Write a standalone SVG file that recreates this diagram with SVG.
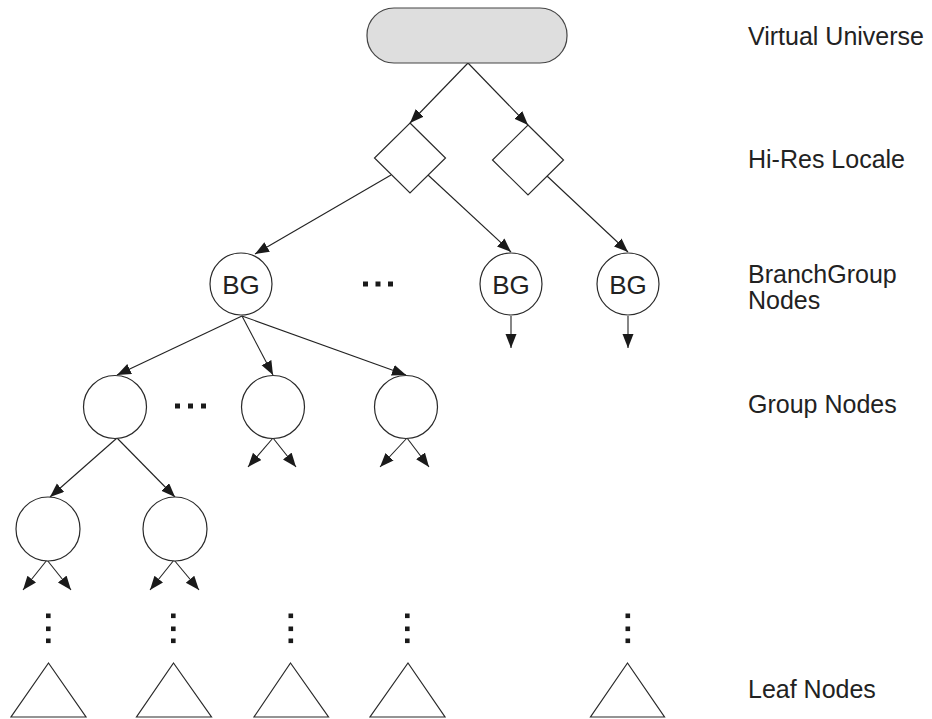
<svg xmlns="http://www.w3.org/2000/svg" width="932" height="719" viewBox="0 0 932 719">
<style>
.shape{fill:#ffffff;stroke:#2a2a2a;stroke-width:1.2}
.vu{fill:#dedede;stroke:#444;stroke-width:1.2}
.edge{stroke:#222;stroke-width:1.1;fill:none;marker-end:url(#arr)}
.lbl{font-family:"Liberation Sans",Arial,sans-serif;font-size:25px;fill:#222}
.bg{font-family:"Liberation Sans",Arial,sans-serif;font-size:26px;fill:#222;text-anchor:middle}
.dot{fill:#1a1a1a}
</style>
<defs>
<marker id="arr" markerUnits="userSpaceOnUse" markerWidth="16" markerHeight="14" refX="14" refY="5.5" orient="auto">
<path d="M0,0 L14,5.5 L0,11 Z" fill="#1a1a1a"/>
</marker>
</defs>
<rect width="932" height="719" fill="#ffffff"/>
<g id="connectors">
<line class="edge" x1="468" y1="63" x2="410" y2="123"/>
<line class="edge" x1="468" y1="63" x2="528" y2="125"/>
<line class="edge" x1="391" y1="175" x2="255" y2="254"/>
<line class="edge" x1="428" y1="175" x2="511" y2="252"/>
<line class="edge" x1="547" y1="176" x2="628" y2="252"/>
<line class="edge" x1="511" y1="316" x2="511" y2="348"/>
<line class="edge" x1="628" y1="316" x2="628" y2="348"/>
<line class="edge" x1="242" y1="316" x2="117" y2="375"/>
<line class="edge" x1="242" y1="316" x2="273" y2="375"/>
<line class="edge" x1="242" y1="316" x2="406" y2="375"/>
<line class="edge" x1="117" y1="438" x2="50" y2="497"/>
<line class="edge" x1="117" y1="438" x2="175" y2="497"/>
<line class="edge" x1="273" y1="438" x2="248" y2="467"/>
<line class="edge" x1="273" y1="438" x2="296" y2="467"/>
<line class="edge" x1="407" y1="438" x2="380" y2="467"/>
<line class="edge" x1="407" y1="438" x2="429" y2="467"/>
<line class="edge" x1="47" y1="560" x2="23" y2="590"/>
<line class="edge" x1="47" y1="560" x2="71" y2="590"/>
<line class="edge" x1="174" y1="560" x2="150" y2="590"/>
<line class="edge" x1="174" y1="560" x2="199" y2="590"/>
</g>
<g id="virtual-universe"><rect class="vu" x="367" y="8" width="200" height="55" rx="27" ry="27"/></g>
<g id="locale-1"><polygon class="shape" points="410,123 445.5,158 410,193 374.5,158"/></g>
<g id="locale-2"><polygon class="shape" points="528,125 563.5,160 528,195 492.5,160"/></g>
<g id="bg-1"><circle class="shape" cx="241" cy="284" r="31"/><text class="bg" x="241" y="293.5">BG</text></g>
<g id="bg-2"><circle class="shape" cx="511" cy="284" r="31"/><text class="bg" x="511" y="293.5">BG</text></g>
<g id="bg-3"><circle class="shape" cx="628" cy="284" r="31"/><text class="bg" x="628" y="293.5">BG</text></g>
<g id="bg-dots"><rect class="dot" x="363" y="281.5" width="5" height="5"/><rect class="dot" x="375.5" y="281.5" width="5" height="5"/><rect class="dot" x="388" y="281.5" width="5" height="5"/></g>
<g id="group-1"><circle class="shape" cx="115" cy="407" r="31.5"/></g>
<g id="group-2"><circle class="shape" cx="273" cy="407" r="31.5"/></g>
<g id="group-3"><circle class="shape" cx="406" cy="407" r="31.5"/></g>
<g id="group-dots"><rect class="dot" x="175" y="403.5" width="5" height="5"/><rect class="dot" x="188" y="403.5" width="5" height="5"/><rect class="dot" x="201" y="403.5" width="5" height="5"/></g>
<g id="group-4"><circle class="shape" cx="48" cy="529" r="32"/></g>
<g id="group-5"><circle class="shape" cx="175" cy="529" r="32"/></g>
<g id="vdots">
<rect class="dot" x="46" y="613.5" width="4.6" height="4.6"/><rect class="dot" x="46" y="626.5" width="4.6" height="4.6"/><rect class="dot" x="46" y="638.5" width="4.6" height="4.6"/>
<rect class="dot" x="171" y="613.5" width="4.6" height="4.6"/><rect class="dot" x="171" y="626.5" width="4.6" height="4.6"/><rect class="dot" x="171" y="638.5" width="4.6" height="4.6"/>
<rect class="dot" x="288.5" y="613.5" width="4.6" height="4.6"/><rect class="dot" x="288.5" y="626.5" width="4.6" height="4.6"/><rect class="dot" x="288.5" y="638.5" width="4.6" height="4.6"/>
<rect class="dot" x="405" y="613.5" width="4.6" height="4.6"/><rect class="dot" x="405" y="626.5" width="4.6" height="4.6"/><rect class="dot" x="405" y="638.5" width="4.6" height="4.6"/>
<rect class="dot" x="625.5" y="613.5" width="4.6" height="4.6"/><rect class="dot" x="625.5" y="626.5" width="4.6" height="4.6"/><rect class="dot" x="625.5" y="638.5" width="4.6" height="4.6"/>
</g>
<g id="leaf-1"><polygon class="shape" points="48.5,663 86,717 11,717"/></g>
<g id="leaf-2"><polygon class="shape" points="173.5,663 211.5,717 136.5,717"/></g>
<g id="leaf-3"><polygon class="shape" points="290.5,663 328.5,717 254,717"/></g>
<g id="leaf-4"><polygon class="shape" points="408,663 445,717 370,717"/></g>
<g id="leaf-5"><polygon class="shape" points="627.5,663 664.5,717 590.5,717"/></g>
<g id="labels">
<text class="lbl" x="748" y="45">Virtual Universe</text>
<text class="lbl" x="748" y="168">Hi-Res Locale</text>
<text class="lbl" x="748" y="283">BranchGroup</text>
<text class="lbl" x="748" y="309">Nodes</text>
<text class="lbl" x="748" y="413">Group Nodes</text>
<text class="lbl" x="748" y="698">Leaf Nodes</text>
</g>
</svg>
